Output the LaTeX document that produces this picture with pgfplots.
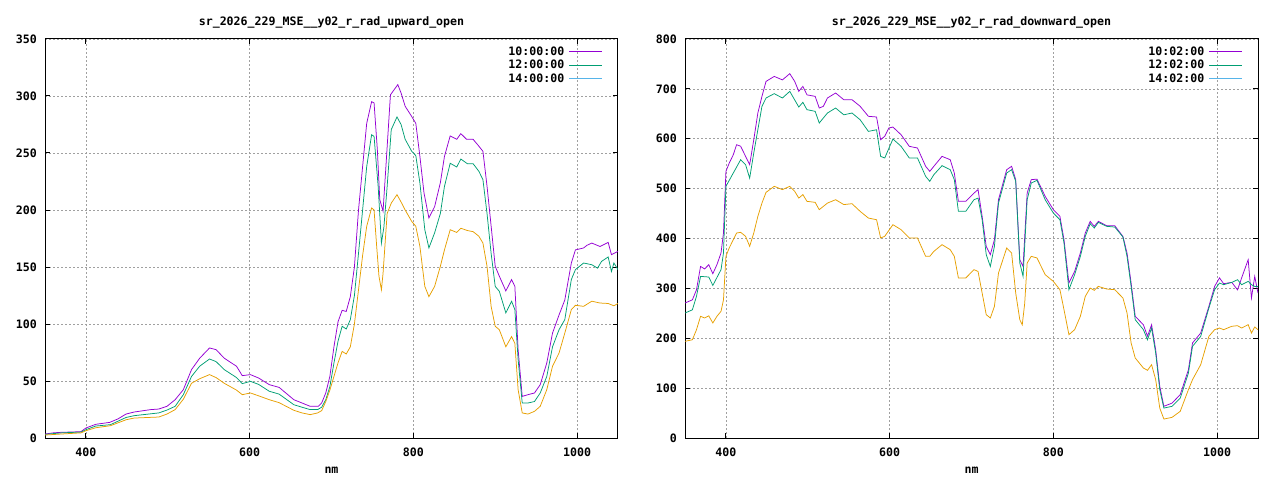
\documentclass[border=0pt]{standalone}
\usepackage{fontspec}
\setmainfont{DejaVu Sans Mono}
\usepackage{pgfplots}
\pgfplotsset{compat=1.18}
\definecolor{gpurple}{HTML}{9400D3}
\definecolor{ggreen}{HTML}{009E73}
\definecolor{gblue}{HTML}{56B4E9}
\definecolor{gorange}{HTML}{E69F00}
\definecolor{ggrid}{HTML}{A0A0A0}
\pgfplotsset{
  gstyle/.style={
    scale only axis, width=573pt, height=399pt,
    xmin=350, xmax=1050,
    xtick={400,600,800,1000},
    tick align=inside, tick pos=both, major tick length=5pt,
    grid=major,
    major grid style={ggrid, dash pattern=on 2pt off 2pt, line width=0.7pt},
    axis line style={line width=1pt},
    every tick/.style={black, line width=1pt},
    /pgf/number format/assume math mode=true,
    /pgf/number format/set thousands separator={},
    yticklabel style={anchor=east, inner sep=0pt, xshift=-8pt},
    xticklabel style={anchor=center, inner sep=0pt, yshift=-14pt},
    title style={anchor=center, at={(0.5,1)}, yshift=11pt},
    xlabel style={anchor=center, at={(0.5,0)}, yshift=-32pt},
    xlabel={nm},
    legend cell align=right,
    legend plot pos=right,
    legend style={at={(1,1)}, anchor=north east, xshift=-12pt, yshift=-4pt,
      draw=none, fill=none, row sep=0.5pt, column sep=3pt,
      nodes={inner sep=1.5pt}},
    legend image code/.code={\draw[#1] (0pt,0pt) -- (33pt,0pt);},
  }
}
\begin{document}
\begin{tikzpicture}[font=\fontsize{11.6pt}{13pt}\selectfont\bfseries]
\useasboundingbox (0,0) rectangle (1280pt,480pt);
\begin{axis}[gstyle, at={(45pt,42pt)}, anchor=south west,
  ymin=0, ymax=350, ytick={0,50,...,350},
  title={sr\_2026\_229\_MSE\_\_y02\_r\_rad\_upward\_open}]
\addlegendimage{draw=gpurple, line width=1pt}
\addlegendentry{10:00:00}
\addlegendimage{draw=ggreen, line width=1pt}
\addlegendentry{12:00:00}
\addlegendimage{draw=gblue, line width=1pt}
\addlegendentry{14:00:00}
\addplot[color=gpurple, line width=0.75pt, forget plot] coordinates {
(350,3.5)(360,4.5)(370,5)(385,5.3)(394,5.6)(400,8.8)(412,12)(429,13.7)(439,16.7)(449,21)(459,22.8)(479,24.9)(489,25.4)(499,27.8)(509,33.6)(519,42.4)(529,60)(539,70)(551,79)(559,77.5)(569,70)(584,62.9)(591,54.7)(601,55.6)(611,52.6)(624,46.8)(636,44.4)(654,33.6)(664,30.7)(674,27.8)(684,27.8)(688,30.7)(693,39.5)(698,54)(703,80)(708,102)(713,112)(718,111)(723,124)(728,150)(733,200)(738,238)(743,276)(749,295)(752,294)(756,253)(759,209)(763,199)(767,244)(772,301)(781,310)(785,302.6)(790,291)(798,282)(803,276)(808,247)(813,215)(819,193)(826,203)(833,224)(838,247)(845,265)(853,262)(858,267)(865,262)(873,262)(880,256)(885,251.5)(890,221)(895,186)(900,150.6)(905,142)(913,129)(920,139)(924,133)(928,77.5)(933,36.5)(940,38)(948,39.5)(955,46.8)(963,65.8)(970,92)(978,108)(985,121)(993,153.5)(998,165)(1008,166.7)(1012,169)(1018,171)(1028,168)(1038,171.6)(1042,160.8)(1050,163.7)
};
\addplot[color=ggreen, line width=0.75pt, forget plot] coordinates {
(350,3.2)(370,4.5)(394,5.2)(400,7.3)(412,10.5)(430,11.7)(449,18)(459,19.6)(489,22)(499,24.5)(509,27.8)(519,38)(529,54)(539,63)(551,69.3)(559,67)(569,60)(584,53)(591,47.7)(601,49.7)(611,47)(624,41)(636,38.5)(654,29.2)(664,27)(674,24.9)(683,24.9)(688,27)(693,33.6)(698,45)(703,65.8)(708,85)(713,98)(718,95.6)(723,103.8)(728,125)(733,162)(738,200)(743,238)(749,266)(752,264.6)(757,220.7)(761,171)(764,185)(768,220.7)(773,270.5)(780,281.6)(785,275)(790,262)(798,251.5)(803,247.7)(808,223.7)(814,182.7)(819,166.7)(826,180)(833,197)(838,220.7)(845,241)(853,237.7)(858,244.7)(866,240.6)(873,240.6)(880,234)(885,226.6)(890,197)(895,162)(900,133)(905,128.7)(913,109.7)(920,120)(924,112.6)(928,68.7)(933,30.7)(940,30.7)(948,32)(955,39.5)(963,54)(970,80)(978,95)(985,103.8)(993,139)(998,147.7)(1008,153.5)(1018,152)(1025,149)(1030,155)(1038,158.8)(1042,146)(1045,153.5)(1050,147.7)
};
\addplot[color=gorange, line width=0.75pt, forget plot] coordinates {
(350,2.6)(370,3.5)(394,4.5)(400,6.4)(412,9)(430,10.8)(449,16)(459,17.5)(489,18.4)(499,21)(509,24.9)(519,34)(529,48)(539,52)(551,55.6)(559,53)(569,48)(584,42)(591,38)(601,39.5)(611,37)(624,33.6)(636,31)(654,24.3)(664,22)(674,20.5)(683,22)(688,24)(693,32)(698,42)(703,54)(708,66)(713,76)(718,73.7)(723,80)(728,100)(733,130)(738,160)(743,185.7)(749,201.8)(752,200)(755,170)(758,141.8)(761,130)(763,144.7)(768,197)(773,206)(780,213.5)(785,207)(790,200)(798,190)(803,185.7)(808,168)(814,133)(819,124)(826,133)(833,150.6)(838,165)(845,182.7)(853,180.3)(858,184)(866,182)(873,181)(880,177)(885,171)(890,150.6)(895,115.5)(900,98)(905,95)(913,80)(920,89)(924,83)(928,42.4)(933,22)(940,21)(948,23.4)(955,27.8)(963,42.4)(970,62.9)(978,74.6)(985,92)(993,112.6)(998,116.4)(1008,115.5)(1018,120)(1028,118.4)(1038,118)(1045,116)(1050,118)
};
\end{axis}
\begin{axis}[gstyle, at={(685pt,42pt)}, anchor=south west,
  ymin=0, ymax=800, ytick={0,100,...,800},
  title={sr\_2026\_229\_MSE\_\_y02\_r\_rad\_downward\_open}]
\addlegendimage{draw=gpurple, line width=1pt}
\addlegendentry{10:02:00}
\addlegendimage{draw=ggreen, line width=1pt}
\addlegendentry{12:02:00}
\addlegendimage{draw=gblue, line width=1pt}
\addlegendentry{14:02:00}
\addplot[color=gpurple, line width=0.75pt, forget plot] coordinates {
(350,270.7)(359,277)(364,297)(369,344)(374,339)(379,347.5)(384,329.5)(389,347.5)(394,371)(397,411)(400,534.6)(404,551)(409,568)(413,588)(418,585)(424,564.7)(429,548)(434,598)(439,651.6)(444,685)(449,715)(459,725)(469,718)(478,730.5)(484,715)(489,695)(494,705)(499,688)(509,685)(514,661.6)(519,665)(524,681.7)(534,691.7)(544,678.3)(554,678.3)(564,665)(574,645)(584,643.6)(589,598)(594,605)(599,621.5)(604,623.5)(614,608)(624,584.8)(634,581.4)(644,544.7)(649,534.6)(654,544.7)(664,564.7)(674,558)(679,531.3)(684,474.5)(693,474.5)(703,491)(708,498)(713,444.4)(718,384)(723,367.6)(728,397.6)(733,478)(743,538)(749,544.7)(754,518)(759,357.5)(763,344)(768,491)(773,518)(780,519)(790,484.5)(800,457.8)(808,444.4)(813,397.6)(819,310.7)(826,334)(833,371)(839,411)(845,434.4)(850,424.4)(855,434.4)(865,425.7)(875,425.7)(885,404)(890,371)(895,310.7)(900,244)(910,227)(915,204)(920,227)(925,177)(930,103.6)(935,63.5)(945,70)(955,87)(965,137)(970,190.5)(980,210.5)(990,264)(997,304)(1003,321)(1008,309.4)(1018,312)(1025,297)(1030,321)(1038,357.5)(1042,280.7)(1046,324)(1050,290.7)
};
\addplot[color=ggreen, line width=0.75pt, forget plot] coordinates {
(350,250.6)(359,257)(364,284)(369,324)(379,322.8)(384,306)(394,337.5)(397,371)(400,504.6)(409,531.3)(418,558)(424,548)(429,521)(434,571.4)(444,665)(449,681.7)(459,690.4)(469,681.7)(478,695)(489,663.6)(494,673)(499,658.3)(509,655)(514,631.5)(524,651.6)(534,661.6)(544,648)(554,651.6)(564,638)(574,614.8)(584,618)(589,564.7)(594,561.4)(604,599.5)(614,584.8)(624,561.4)(634,561.4)(644,524.6)(649,514.6)(654,528)(664,546)(674,538)(679,518)(684,454.4)(693,454.4)(703,477.8)(708,481)(713,437.7)(718,367.6)(723,344)(728,384.4)(733,471)(743,531.3)(749,538)(754,514.6)(759,351)(763,324)(768,477.8)(773,511.3)(780,516.6)(790,477.8)(800,451)(808,437.7)(813,391)(819,297.4)(826,327.5)(833,364.2)(839,404.4)(845,429.7)(850,421)(855,432.4)(865,424.4)(875,423)(885,403)(890,364.2)(895,304)(900,237.2)(910,217.2)(915,197)(920,220.5)(925,170.4)(930,97)(935,60)(945,63.5)(955,80)(965,130.3)(970,183.8)(980,203.8)(990,260.6)(997,297.4)(1003,310.7)(1008,307.4)(1018,312)(1025,317.4)(1030,307.4)(1038,314)(1042,307.4)(1046,304)(1050,304)
};
\addplot[color=gorange, line width=0.75pt, forget plot] coordinates {
(350,193.8)(359,197)(364,217)(369,244)(374,240.6)(379,245)(384,230.6)(389,244)(394,254)(397,277)(400,364.2)(404,381)(413,411)(418,412.4)(424,404.4)(429,384.3)(434,411)(439,444.4)(444,471)(449,492.5)(459,504.6)(469,498)(478,504.6)(484,494.6)(489,481)(494,488)(499,474.5)(509,472.5)(514,457.8)(524,471)(534,477.8)(544,468)(554,469.8)(564,454.4)(574,441)(584,437.7)(589,401)(594,404.4)(604,427.7)(614,417.7)(624,401)(634,401)(644,364.2)(649,364.2)(654,374.2)(664,387.6)(674,377.6)(679,364.2)(684,320.8)(693,320.8)(703,337.5)(708,334)(713,290.7)(718,247.3)(723,240.6)(728,264)(733,330.8)(743,381)(749,371)(754,290.7)(759,237.2)(762,227)(765,270)(768,350.9)(773,364.2)(780,361)(790,327.5)(800,314)(808,297.4)(813,257.3)(819,207.2)(826,217.2)(833,244)(839,284)(845,300.7)(850,296)(855,304)(865,298.7)(875,297.4)(885,280.7)(890,250.6)(895,190.5)(900,160.4)(910,140.3)(915,135.7)(920,147)(925,117)(930,60)(935,38)(945,41.4)(955,53.5)(965,97)(970,117)(980,147)(990,203.8)(997,217.2)(1003,220.5)(1008,217.2)(1018,224)(1025,225.2)(1030,220.5)(1038,227.2)(1042,210.5)(1046,222.6)(1050,217.2)
};
\end{axis}
\end{tikzpicture}
\end{document}
